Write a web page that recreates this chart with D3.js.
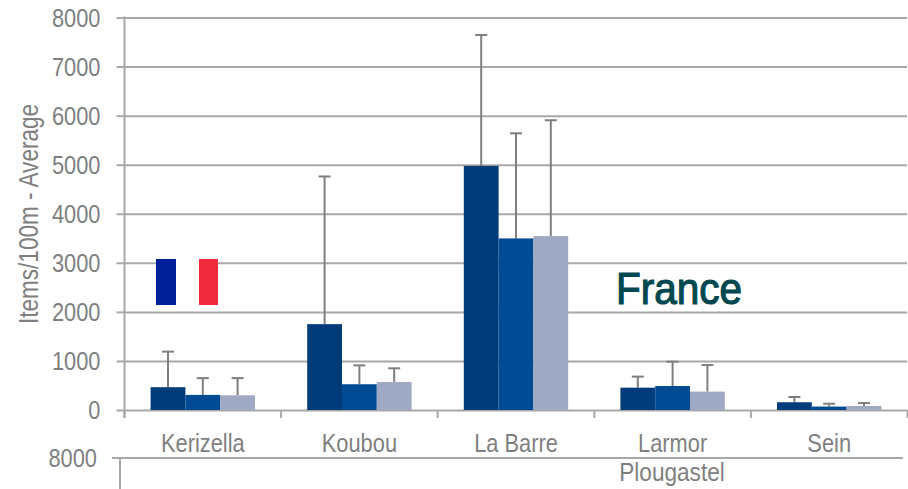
<!DOCTYPE html>
<html><head><meta charset="utf-8">
<script src="https://cdn.jsdelivr.net/npm/d3@7"></script>
<style>
html,body{margin:0;padding:0;background:#fff}
svg{display:block}
text{font-family:"Liberation Sans",Arial,sans-serif}
</style></head><body>
<svg id="c" width="908" height="489"></svg>
<script>
const categories = ["Kerizella","Koubou","La Barre","Larmor","Sein"];
const seriesNames = ["s1","s2","s3"];
const series1 = [465,1750,4975,455,158];
const series2 = [308,525,3497,489,70];
const series3 = [300,570,3545,375,82];
const errTop1 = [1190,4760,7644,680,265];
const errTop2 = [650,910,5640,985,128];
const errTop3 = [650,850,5906,916,142];
const yTicks = [0,1000,2000,3000,4000,5000,6000,7000,8000];
const colors = ["#003c7a","#004b93","#9fa9c3"];
const yTitle = "Items/100m - Average";
const groupLabel = "Plougastel";
const countryLabel = "France";
const flagColors = ["#00209a","#ffffff","#ef2b3d"];

const GRID="#a8a8a8", TXT="#7f7f7f";
const svg=d3.select("#c");
const x0=d3.scaleBand().domain(categories).range([124.5,907.5]);
const x1=d3.scaleBand().domain(seriesNames).range([0,x0.bandwidth()]).paddingInner(0).paddingOuter(0.75);
const y=d3.scaleLinear().domain([0,8000]).range([410,17.5]);

// narrow text: Arial Narrow look-alike through horizontal scaling
function label(x,yy,str,opts={}){
  const sx=opts.sx||0.84;
  return svg.append("text")
    .attr("transform",`translate(${x},${yy}) rotate(${opts.rot||0}) scale(${sx},1)`)
    .attr("text-anchor",opts.anchor||"middle")
    .attr("fill",opts.fill||TXT)
    .style("font-size",(opts.size||26)+"px")
    .style("font-weight",opts.weight||"normal")
    .attr("stroke",opts.stroke||"none").attr("stroke-width",opts.sw||0)
    .text(str);
}

// y axis + gridlines
const yAxis=svg.append("g").attr("transform","translate(124.5,0)")
  .call(d3.axisLeft(y).tickValues(yTicks).tickSize(8).tickFormat(()=>""));
yAxis.selectAll("path").remove();
yAxis.selectAll("line").attr("stroke",GRID).attr("stroke-width",2);
yAxis.selectAll(".tick").append("line").attr("x1",0).attr("x2",782.5).attr("stroke",GRID).attr("stroke-width",2);
yTicks.forEach(t=>label(100.5,y(t)+9,String(t),{anchor:"end"}));
svg.append("line").attr("x1",124.5).attr("x2",124.5).attr("y1",y(8000)-1).attr("y2",418).attr("stroke",GRID).attr("stroke-width",2);

// category ticks
svg.append("g").selectAll("line").data(d3.range(categories.length+1)).join("line")
  .attr("x1",i=>124.5+i*x0.step()).attr("x2",i=>124.5+i*x0.step())
  .attr("y1",410).attr("y2",418).attr("stroke",GRID).attr("stroke-width",2);

// bars
const vals=[series1,series2,series3], tops=[errTop1,errTop2,errTop3];
seriesNames.forEach((s,si)=>{
  const g=svg.append("g");
  const data=categories.map((c,i)=>({c,v:vals[si][i],t:tops[si][i]}));
  g.selectAll("line.e").data(data).join("line").attr("class","e")
    .attr("x1",d=>x0(d.c)+x1(s)+x1.bandwidth()/2).attr("x2",d=>x0(d.c)+x1(s)+x1.bandwidth()/2)
    .attr("y1",d=>y(d.v)).attr("y2",d=>y(d.t)).attr("stroke","#7f7f7f").attr("stroke-width",2);
  g.selectAll("line.c").data(data).join("line").attr("class","c")
    .attr("x1",d=>x0(d.c)+x1(s)+x1.bandwidth()/2-6).attr("x2",d=>x0(d.c)+x1(s)+x1.bandwidth()/2+6)
    .attr("y1",d=>y(d.t)).attr("y2",d=>y(d.t)).attr("stroke","#7f7f7f").attr("stroke-width",2);
  g.selectAll("rect").data(data).join("rect")
    .attr("x",d=>x0(d.c)+x1(s)).attr("width",x1.bandwidth())
    .attr("y",d=>y(d.v)).attr("height",d=>y(0)-y(d.v)).attr("fill",colors[si]);
});

// category labels
categories.forEach(c=>label(x0(c)+x0.bandwidth()/2,452,c));

// y title
label(38,214,yTitle,{rot:-90,size:27,sx:0.835});

// truncated second chart
label(97,467,"8000",{anchor:"end"});
svg.append("line").attr("x1",112).attr("x2",903).attr("y1",458).attr("y2",458).attr("stroke",GRID).attr("stroke-width",2);
svg.append("line").attr("x1",120).attr("x2",120).attr("y1",458).attr("y2",489).attr("stroke",GRID).attr("stroke-width",2);
label(672,481,groupLabel,{sx:0.87});

// annotation
const flagEdges=[156,176,199,218];
svg.append("g").selectAll("rect").data(flagColors).join("rect")
  .attr("x",(d,i)=>flagEdges[i]).attr("width",(d,i)=>flagEdges[i+1]-flagEdges[i]).attr("y",259).attr("height",46).attr("fill",d=>d);
label(616,304,countryLabel,{anchor:"start",fill:"#00474f",size:45,sx:0.9,stroke:"#00474f",sw:1.2});
</script>
</body></html>
